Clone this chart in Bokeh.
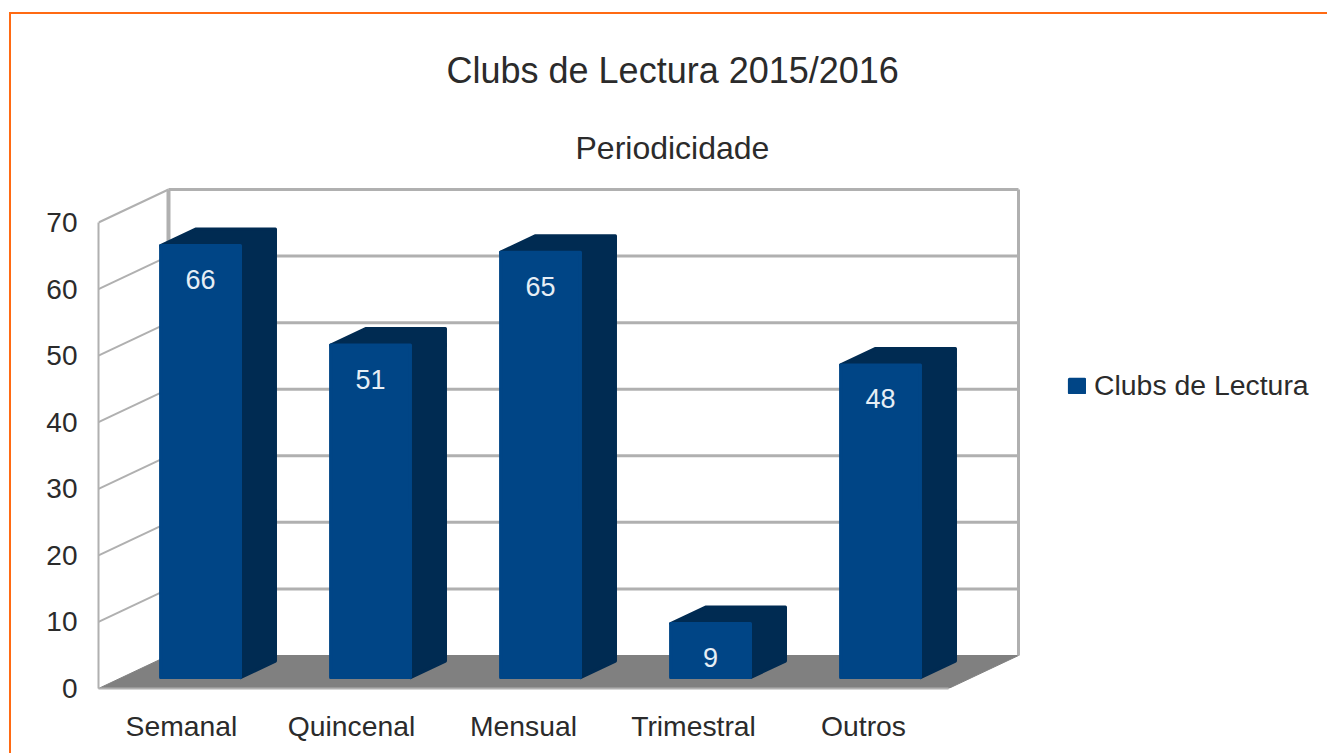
from bokeh.plotting import figure
from bokeh.embed import file_html
from bokeh.resources import INLINE
from bokeh.core.properties import value
from bokeh.layouts import column
from bokeh.models import (ColumnDataSource, FixedTicker, Legend, LegendItem, Range1d, Title)

categories = ["Semanal", "Quincenal", "Mensual", "Trimestral", "Outros"]
clubs = [66, 51, 65, 9, 48]
y_ticks = [0, 10, 20, 30, 40, 50, 60, 70]
series_name = "Clubs de Lectura"
main_title = "Clubs de Lectura 2015/2016"
sub_title = "Periodicidade"

FONT = "Liberation Sans"
TEXT = "#2b2b2b"
FRONT = "#004586"
DARK = "#002b52"
FLOOR = "#808080"
GRID = "#b0b0b0"
ORANGE = "#ff6a13"

# Oblique projection: one unit of depth, in data units
CAT_PX = 170.0
VAL_PX = 6.657
DX = 70 / CAT_PX
DY = 33 / VAL_PX
BAR_SCALE = 0.996
BAR_TOP_SHIFT = -0.536
BAR_BASE = 0.3
BAR_SHIFT = -0.011
D0, D1 = 0.27, 0.77
BAR_W = 0.47
N = len(categories)


def proj(x, y, d):
    return x + d * DX, y + d * DY


p = figure(width=1316, height=739, output_backend="svg", toolbar_location=None,
           x_range=Range1d(0, 1229 / CAT_PX), y_range=Range1d(0, 518 / VAL_PX),
           min_border_left=87, min_border_right=0, min_border_bottom=65, min_border_top=156,
           outline_line_color=None, background_fill_color="white", border_fill_color="white")
p.grid.visible = False

# Titles
sub = Title(text=sub_title, text_font=FONT, text_font_size="32px", text_font_style="normal",
            text_color=TEXT, align="left", offset=477, standoff=10)
top = Title(text=main_title, text_font=FONT, text_font_size="36px", text_font_style="normal",
            text_color=TEXT, align="left", offset=348, standoff=64)
p.add_layout(sub, "above")
p.add_layout(top, "above")
p.title.visible = False

# Floor
fx, fy = zip(*[proj(0, 0, 0), proj(0, 0, 1), proj(N, 0, 1), proj(N, 0, 0)])
p.patch(list(fx), list(fy), fill_color=FLOOR, line_color=FLOOR)

# Walls and gridlines
side_xs, side_ys, back_xs, back_ys = [], [], [], []
for t in y_ticks:
    a, b, c = proj(0, t, 0), proj(0, t, 1), proj(N, t, 1)
    if t > 0:
        side_xs.append([a[0], b[0]])
        side_ys.append([a[1], b[1]])
        back_xs.append([b[0], c[0]])
        back_ys.append([b[1], c[1]])
p.multi_line(side_xs, side_ys, line_color=GRID, line_width=2)
p.multi_line(back_xs, back_ys, line_color=GRID, line_width=3)
bl, tl = proj(0, 0, 1), proj(0, y_ticks[-1], 1)
br, tr = proj(N, 0, 1), proj(N, y_ticks[-1], 1)
p.line([bl[0], tl[0]], [bl[1], tl[1]], line_color=GRID, line_width=4)
p.line([br[0], tr[0]], [br[1], tr[1]], line_color=GRID, line_width=3)

# Bars
fr_xs, fr_ys, dk_xs, dk_ys, lab_x, lab_y = [], [], [], [], [], []
for i, v in enumerate(clubs):
    x0 = i + (1 - BAR_W) / 2 + BAR_SHIFT
    x1 = x0 + BAR_W
    y0 = BAR_BASE
    h = v * BAR_SCALE + BAR_TOP_SHIFT
    a = proj(x0, y0, D0); b = proj(x1, y0, D0); c = proj(x1, h, D0); d = proj(x0, h, D0)
    fr_xs.append([a[0], b[0], c[0], d[0]])
    fr_ys.append([a[1], b[1], c[1], d[1]])
    e = proj(x0, h, D1); f = proj(x1, h, D1); g = proj(x1, y0, D1)
    dk_xs.append([d[0], e[0], f[0], g[0], b[0]])
    dk_ys.append([d[1], e[1], f[1], g[1], b[1]])
    lab_x.append((a[0] + b[0]) / 2)
    lab_y.append(c[1])

p.patches(dk_xs, dk_ys, fill_color=DARK, line_color=DARK, line_width=3, line_join="round")
front = p.patches(fr_xs, fr_ys, fill_color=FRONT, line_color=FRONT, line_width=3, line_join="round")

src = ColumnDataSource(dict(x=lab_x, y=lab_y, t=[str(v) for v in clubs]))
p.text("x", "y", text="t", source=src, text_font=value(FONT), text_font_size="27px",
       text_color="#e6eef5", text_align="center", text_baseline="middle", y_offset=34)

# Axes
xa = p.xaxis[0]
x_tick_pos = [0.488, 1.488, 2.5, 3.5, 4.5]
xa.ticker = FixedTicker(ticks=x_tick_pos)
xa.major_label_overrides = {t: c for t, c in zip(x_tick_pos, categories)}
xa.bounds = (0, N)
xa.major_tick_line_color = None
xa.minor_tick_line_color = None
xa.axis_line_color = GRID
xa.axis_line_width = 2
xa.major_label_standoff = 15
xa.major_label_text_font = FONT
xa.major_label_text_font_size = "28.3px"
xa.major_label_text_color = TEXT

ya = p.yaxis[0]
ya.ticker = FixedTicker(ticks=y_ticks)
ya.bounds = (y_ticks[0], y_ticks[-1])
ya.major_tick_line_color = None
ya.minor_tick_line_color = None
ya.axis_line_color = GRID
ya.axis_line_width = 2
ya.major_label_standoff = 15
ya.major_label_orientation = "horizontal"
ya.major_label_text_font = FONT
ya.major_label_text_font_size = "28px"
ya.major_label_text_color = TEXT

# Legend
leg = Legend(items=[LegendItem(label=series_name, renderers=[front])],
             location=(969, 286), padding=0, margin=0, spacing=0,
             glyph_width=19, glyph_height=17, label_standoff=8,
             background_fill_alpha=0, border_line_color=None,
             label_text_font=FONT, label_text_font_size="28.4px", label_text_color=TEXT)
p.add_layout(leg, "center")

page = column(p, margin=(12, 0, 0, 9), width=1318, height=741,
              styles={"border-top": f"2px solid {ORANGE}", "border-left": f"2px solid {ORANGE}"})

open("out.html", "w").write(file_html(page, INLINE))
